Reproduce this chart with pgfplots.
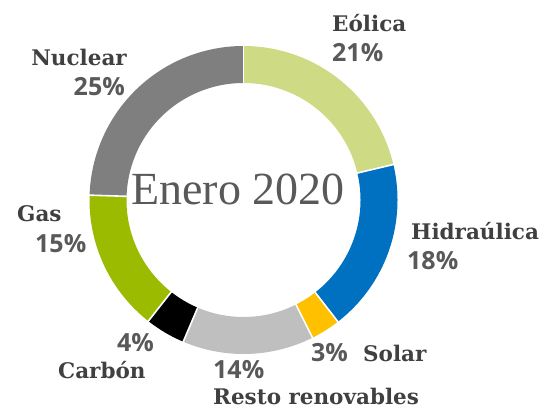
\documentclass[border=0pt]{standalone}
\usepackage{pgfplots}
\pgfplotsset{compat=1.18}
\usepackage{pgfplotstable}
\usepackage{fontspec}
\setmainfont{DejaVu Serif}
\newfontfamily\labfont{DejaVu Serif}
\newfontfamily\pctfont{Open Sans}
\newfontfamily\titfont{Liberation Serif}

\definecolor{ceolica}{HTML}{CFDB84}
\definecolor{chidra}{HTML}{0070C0}
\definecolor{csolar}{HTML}{FFC000}
\definecolor{cresto}{HTML}{BFBFBF}
\definecolor{ccarbon}{HTML}{000000}
\definecolor{cgas}{HTML}{9BBB00}
\definecolor{cnuclear}{HTML}{7F7F7F}
\definecolor{labgray}{HTML}{404040}
\definecolor{pctgray}{HTML}{595959}

% share (%) and the slice's start / end angle (degrees, clockwise from 12 o'clock)
\pgfplotstableread{
name      pct   start    end
Eolica    21.3   90.00   13.32
Hidraulica 18.2  13.32  -52.20
Solar      3.1  -52.20  -63.36
Resto     13.8  -63.36 -113.04
Carbon     4.2 -113.04 -128.16
Gas       14.9 -128.16 -181.80
Nuclear   24.5 -181.80 -270.00
}\sharetable

\newcommand{\slice}[3]{%
  \addplot[draw=#1, line width=37pt, line cap=butt, domain=#3:#2, samples=90, no markers]
    ({243.5+135.5*cos(x)}, {211+135.5*sin(x)});}
\newcommand{\sep}[1]{%
  \addplot[draw=white, line width=1.6pt, domain=116:155, samples=2, no markers]
    ({243.5+x*cos(#1)}, {211+x*sin(#1)});}

\begin{document}
\begin{tikzpicture}
\begin{axis}[width=545pt, height=411pt, scale only axis,
  xmin=0, xmax=545, ymin=0, ymax=411, hide axis, clip=false,
  nodes={inner sep=0pt}]
\slice{ceolica}{90.00}{13.32}
\slice{chidra}{13.32}{-52.20}
\slice{csolar}{-52.20}{-63.36}
\slice{cresto}{-63.36}{-113.04}
\slice{ccarbon}{-113.04}{-128.16}
\slice{cgas}{-128.16}{-181.80}
\slice{cnuclear}{-181.80}{-270.00}
\sep{90}\sep{13.32}\sep{-52.20}\sep{-63.36}\sep{-113.04}\sep{-128.16}\sep{-181.80}

\tikzset{nm/.style={text=labgray, font=\labfont\bfseries\fontsize{21.5}{23}\selectfont},
         pc/.style={text=pctgray, font=\pctfont\bfseries\fontsize{25}{27}\selectfont}}
\node[nm, anchor=base west] at (axis cs:332,379) {Eólica};
\node[pc, anchor=base west] at (axis cs:332,349) {21\%};
\node[nm, anchor=base east] at (axis cs:127,345) {Nuclear};
\node[pc, anchor=base east] at (axis cs:125,315) {25\%};
\node[nm, anchor=base west] at (axis cs:17,189) {Gas};
\node[pc, anchor=base west] at (axis cs:35,158) {15\%};
\node[nm, anchor=base west] at (axis cs:411,171) {Hidraúlica};
\node[pc, anchor=base west] at (axis cs:407,141) {18\%};
\node[pc, anchor=base west] at (axis cs:311,49) {3\%};
\node[nm, anchor=base west] at (axis cs:363,49) {Solar};
\node[pc, anchor=base west] at (axis cs:117,59) {4\%};
\node[nm, anchor=base west] at (axis cs:58,32) {Carbón};
\node[pc, anchor=base west] at (axis cs:213,32) {14\%};
\node[nm, anchor=base west] at (axis cs:213,6) {Resto renovables};
\node[anchor=base west, text=pctgray, font=\titfont\fontsize{46}{50}\selectfont] at (axis cs:131,206) {Enero 2020};
\end{axis}
\pgfresetboundingbox
\useasboundingbox (current axis.south west) rectangle (current axis.north east);
\end{tikzpicture}
\end{document}
